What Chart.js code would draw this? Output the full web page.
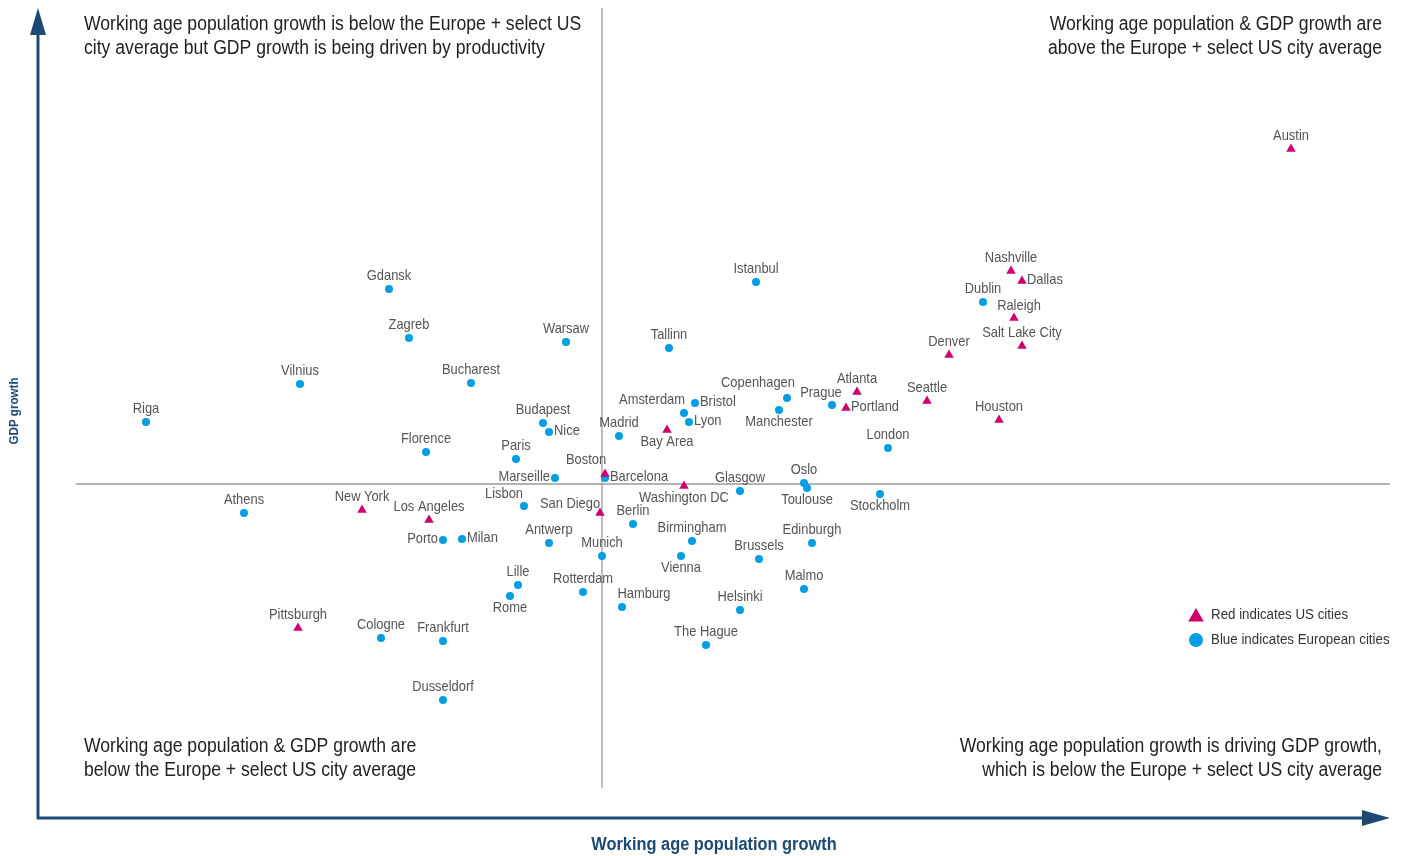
<!DOCTYPE html>
<html>
<head>
<meta charset="utf-8">
<title>Working age population growth vs GDP growth</title>
<script src="https://cdn.jsdelivr.net/npm/chart.js@4.4.1/dist/chart.umd.min.js"></script>
<style>
  html, body { margin: 0; padding: 0; background: #fff; }
</style>
</head>
<body>
<canvas id="quadChart" width="1404" height="856"></canvas>
<script>
// Growth relative to the Europe + select US city average (0 = average)
const euCities = ['Riga', 'Vilnius', 'Gdansk', 'Zagreb', 'Bucharest', 'Warsaw', 'Budapest', 'Nice',
  'Florence', 'Paris', 'Marseille', 'Barcelona', 'Lisbon', 'Athens', 'Porto', 'Milan', 'Antwerp',
  'Munich', 'Lille', 'Rome', 'Rotterdam', 'Hamburg', 'Cologne', 'Frankfurt', 'Dusseldorf', 'Madrid',
  'Amsterdam', 'Bristol', 'Lyon', 'Tallinn', 'Istanbul', 'Copenhagen', 'Manchester', 'Prague',
  'London', 'Glasgow', 'Oslo', 'Toulouse', 'Stockholm', 'Berlin', 'Birmingham', 'Vienna',
  'Brussels', 'Edinburgh', 'Malmo', 'Helsinki', 'The Hague', 'Dublin'];
const euX = [-45.6, -30.2, -21.3, -19.3, -13.1, -3.6, -5.9, -5.3,
  -17.6, -8.6, -4.7, 0.3, -7.8, -35.8, -15.9, -14.0, -5.3,
  0.0, -8.4, -9.2, -1.9, 2.0, -22.1, -15.9, -15.9, 1.7,
  8.2, 9.3, 8.7, 6.7, 15.4, 18.5, 17.7, 23.0,
  28.6, 13.8, 20.2, 20.5, 27.8, 3.1, 9.0, 7.9,
  15.7, 21.0, 20.2, 13.8, 10.4, 38.1];
const euY = [6.2, 10.0, 19.5, 14.6, 10.1, 14.2, 6.1, 5.2,
  3.2, 2.5, 0.6, 0.6, -2.2, -2.9, -5.6, -5.5, -5.9,
  -7.2, -10.1, -11.2, -10.8, -12.3, -15.4, -15.7, -21.6, 4.8,
  7.1, 8.1, 6.2, 13.6, 20.2, 8.6, 7.4, 7.9,
  3.6, -0.7, 0.1, -0.4, -1.0, -4.0, -5.7, -7.2,
  -7.5, -5.9, -10.5, -12.6, -16.1, 18.2];

const usCities = ['Austin', 'Nashville', 'Dallas', 'Raleigh', 'Salt Lake City', 'Denver', 'Atlanta',
  'Portland', 'Seattle', 'Houston', 'Bay Area', 'Boston', 'Washington DC', 'San Diego',
  'Los Angeles', 'New York', 'Pittsburgh'];
const usX = [68.9, 40.9, 42.0, 41.2, 42.0, 34.7, 25.5, 24.4, 32.5, 39.7, 6.5, 0.3, 8.2, -0.2, -17.3, -24.0, -30.4];
const usY = [33.5, 21.3, 20.3, 16.6, 13.8, 12.9, 9.2, 7.6, 8.3, 6.4, 5.4, 1.0, -0.2, -2.9, -3.6, -2.6, -14.4];

const xRange = [-56.4, 78.8];
const yRange = [-33.4, 47.6];

const FONT = '"Liberation Sans", Arial, sans-serif';
const NAVY = '#1c4a74';
const RED = '#cf006e';
const BLUE = '#009fe3';

// where each city name sits around its marker (default: centred above)
const labelSide = {
  'Nice': 'r', 'Marseille': 'l', 'Barcelona': 'r', 'Porto': 'l', 'Milan': 'r',
  'Bristol': 'r', 'Lyon': 'r', 'Portland': 'r', 'Dallas': 'r',
  'Rome': 'b', 'Bay Area': 'b', 'Manchester': 'b', 'Washington DC': 'b',
  'Toulouse': 'b', 'Stockholm': 'b', 'Vienna': 'b',
  'Boston': [-19, -14], 'Lisbon': [-20, -12], 'San Diego': [-30, -9],
  'Hamburg': [22, -13], 'Amsterdam': [-32, -13], 'Copenhagen': [-29, -15],
  'Prague': [-11, -12], 'Raleigh': [5, -12]
};

const quadrantNotes = [
  { lines: ['Working age population growth is below the Europe + select US',
            'city average but GDP growth is being driven by productivity'], x: 84, y: 24, align: 'left' },
  { lines: ['Working age population & GDP growth are',
            'above the Europe + select US city average'], x: 1382, y: 24, align: 'right' },
  { lines: ['Working age population & GDP growth are',
            'below the Europe + select US city average'], x: 84, y: 746, align: 'left' },
  { lines: ['Working age population growth is driving GDP growth,',
            'which is below the Europe + select US city average'], x: 1382, y: 746, align: 'right' }
];

function toPoints(xs, ys) {
  return xs.map((x, i) => ({ x: x, y: ys[i] }));
}

// draws text horizontally compressed around its anchor (condensed look)
function narrowText(ctx, text, x, y, squeeze = 0.86) {
  ctx.save();
  ctx.translate(x, y);
  ctx.scale(squeeze, 1);
  ctx.fillText(text, 0, 0);
  ctx.restore();
}

function drawTriangle(ctx, x, y, r) {
  ctx.beginPath();
  ctx.moveTo(x, y - r);
  ctx.lineTo(x + r * 0.866, y + r * 0.5);
  ctx.lineTo(x - r * 0.866, y + r * 0.5);
  ctx.closePath();
  ctx.fill();
}

const quadrantPlugin = {
  id: 'quadrants',
  beforeDatasetsDraw(chart) {
    const { ctx, chartArea, scales } = chart;
    const x0 = scales.x.getPixelForValue(0);
    const y0 = scales.y.getPixelForValue(0);
    ctx.save();
    // average lines
    ctx.strokeStyle = '#9b9b9b';
    ctx.lineWidth = 1.3;
    ctx.beginPath();
    ctx.moveTo(x0, chartArea.top);
    ctx.lineTo(x0, scales.y.getPixelForValue(-30.4));
    ctx.moveTo(scales.x.getPixelForValue(-52.6), y0);
    ctx.lineTo(chartArea.right, y0);
    ctx.stroke();

    // axis arrows
    const l = chartArea.left, b = chartArea.bottom;
    ctx.strokeStyle = NAVY;
    ctx.fillStyle = NAVY;
    ctx.lineWidth = 3;
    ctx.beginPath();
    ctx.moveTo(l, chartArea.top + 20);
    ctx.lineTo(l, b);
    ctx.lineTo(chartArea.right - 20, b);
    ctx.stroke();
    ctx.beginPath();
    ctx.moveTo(l, chartArea.top);
    ctx.lineTo(l - 8, chartArea.top + 27);
    ctx.lineTo(l + 8, chartArea.top + 27);
    ctx.closePath();
    ctx.fill();
    ctx.beginPath();
    ctx.moveTo(chartArea.right, b);
    ctx.lineTo(chartArea.right - 28, b - 8);
    ctx.lineTo(chartArea.right - 28, b + 8);
    ctx.closePath();
    ctx.fill();

    // axis titles
    ctx.font = 'bold 18px ' + FONT;
    ctx.textAlign = 'center';
    ctx.textBaseline = 'middle';
    narrowText(ctx, 'Working age population growth', 714, 845, 0.91);
    ctx.save();
    ctx.translate(14, 411);
    ctx.rotate(-Math.PI / 2);
    ctx.font = 'bold 13.5px ' + FONT;
    narrowText(ctx, 'GDP growth', 0, 0);
    ctx.restore();

    // quadrant descriptions
    ctx.fillStyle = '#222';
    ctx.font = '20px ' + FONT;
    quadrantNotes.forEach(n => {
      ctx.textAlign = n.align;
      n.lines.forEach((t, i) => narrowText(ctx, t, n.x, n.y + i * 24, 0.88));
    });
    ctx.restore();
  },
  afterDatasetsDraw(chart) {
    const { ctx } = chart;
    ctx.save();
    ctx.font = '15px ' + FONT;
    ctx.fillStyle = '#545454';
    ctx.textBaseline = 'middle';
    chart.data.datasets.forEach((ds, di) => {
      const meta = chart.getDatasetMeta(di);
      ds.names.forEach((name, i) => {
        const pt = meta.data[i];
        const side = labelSide[name] || 't';
        let x = pt.x, y = pt.y;
        if (side === 'r') { ctx.textAlign = 'left'; x += 5; y -= 1; }
        else if (side === 'l') { ctx.textAlign = 'right'; x -= 5; y -= 1; }
        else if (side === 'b') { ctx.textAlign = 'center'; y += 12; }
        else if (side === 't') { ctx.textAlign = 'center'; y -= 13; }
        else { ctx.textAlign = 'center'; x += side[0]; y += side[1]; }
        narrowText(ctx, name, x, y);
      });
    });

    // legend
    const ds = chart.data.datasets;
    ctx.font = '15.5px ' + FONT;
    ctx.fillStyle = '#333';
    ctx.textAlign = 'left';
    narrowText(ctx, ds[0].label, 1211, 615);
    narrowText(ctx, ds[1].label, 1211, 640);
    ctx.fillStyle = ds[0].backgroundColor;
    drawTriangle(ctx, 1196, 617, 9);
    ctx.fillStyle = ds[1].backgroundColor;
    ctx.beginPath();
    ctx.arc(1196, 640, 7, 0, Math.PI * 2);
    ctx.fill();
    ctx.restore();
  }
};

new Chart(document.getElementById('quadChart').getContext('2d'), {
  type: 'scatter',
  data: {
    datasets: [
      {
        label: 'Red indicates US cities',
        names: usCities,
        data: toPoints(usX, usY),
        pointStyle: 'triangle',
        pointRadius: 5.5,
        backgroundColor: RED,
        borderColor: RED,
        borderWidth: 0
      },
      {
        label: 'Blue indicates European cities',
        names: euCities,
        data: toPoints(euX, euY),
        pointStyle: 'circle',
        pointRadius: 4,
        backgroundColor: BLUE,
        borderColor: BLUE,
        borderWidth: 0
      }
    ]
  },
  options: {
    responsive: false,
    animation: false,
    layout: { padding: { left: 38, right: 14, top: 8, bottom: 38 } },
    scales: {
      x: { type: 'linear', display: false, min: xRange[0], max: xRange[1] },
      y: { type: 'linear', display: false, min: yRange[0], max: yRange[1] }
    },
    plugins: {
      legend: { display: false },
      tooltip: { enabled: false }
    }
  },
  plugins: [quadrantPlugin]
});
</script>
</body>
</html>
